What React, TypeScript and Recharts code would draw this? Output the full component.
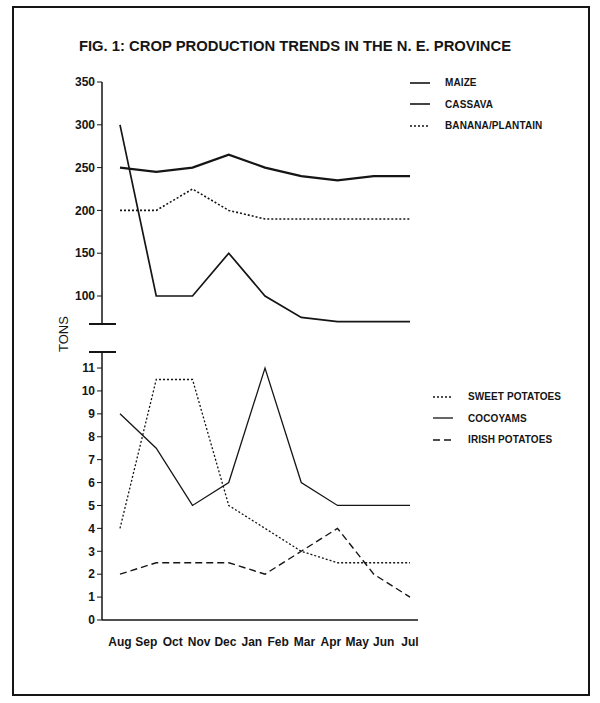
import React from 'react';
import { LineChart, Line, XAxis, YAxis, Legend } from 'recharts';

const MONTHS = ['Aug', 'Sep', 'Oct', 'Nov', 'Dec', 'Jan', 'Feb', 'Mar', 'Apr', 'May', 'Jun', 'Jul'];
const POINTS = [0, 1, 2, 3, 4, 5, 6, 7, 8];
const MAIZE = [250, 245, 250, 265, 250, 240, 235, 240, 240];
const CASSAVA = [300, 100, 100, 150, 100, 75, 70, 70, 70];
const BANANA = [200, 200, 225, 200, 190, 190, 190, 190, 190];
const SWEET = [4, 10.5, 10.5, 5, 4, 3, 2.5, 2.5, 2.5];
const COCOYAMS = [9, 7.5, 5, 6, 11, 6, 5, 5, 5];
const IRISH = [2, 2.5, 2.5, 2.5, 2, 3, 4, 2, 1];
const TOP_TICKS = [100, 150, 200, 250, 300, 350];
const BOTTOM_TICKS = [0, 1, 2, 3, 4, 5, 6, 7, 8, 9, 10, 11];
const TOP_NAMES = ['MAIZE', 'CASSAVA', 'BANANA/PLANTAIN'];
const BOTTOM_NAMES = ['SWEET POTATOES', 'COCOYAMS', 'IRISH POTATOES'];

const topData = POINTS.map((p, i) => ({ p, maize: MAIZE[i], cassava: CASSAVA[i], banana: BANANA[i] }));
const bottomData = POINTS.map((p, i) => ({ p, sweet: SWEET[i], cocoyams: COCOYAMS[i], irish: IRISH[i] }));
const monthTicks = MONTHS.map((_, i) => (i * (POINTS.length - 1)) / (MONTHS.length - 1));

const INK = '#151515';
const FONT = '"Liberation Sans", Arial, Helvetica, sans-serif';

const yTickStyle = { fontSize: 12, fontWeight: 700, fill: INK, fontFamily: FONT };
const xTickStyle = { fontSize: 12, fontWeight: 700, fill: INK, fontFamily: FONT };

const makeLegend = (order: string[], gap: number) => (props: any) => {
  const payload = [...(props.payload || [])].sort(
    (a: any, b: any) => order.indexOf(a.value) - order.indexOf(b.value)
  );
  return (
    <div style={{ fontFamily: FONT }}>
      {payload.map((entry: any, idx: number) => {
        const dash = entry.payload?.strokeDasharray;
        const sw = entry.payload?.strokeWidth || 1.5;
        return (
          <div key={idx} style={{ display: 'flex', alignItems: 'center', height: 21.5 }}>
            <svg width={20} height={8}>
              <line x1={0} y1={4} x2={20} y2={4} stroke={INK} strokeWidth={Math.min(sw, 1.6)} strokeDasharray={dash} />
            </svg>
            <span style={{ marginLeft: gap, fontSize: 10, fontWeight: 700, color: INK, letterSpacing: 0.1, whiteSpace: 'nowrap' }}>
              {entry.value}
            </span>
          </div>
        );
      })}
    </div>
  );
};

export default function App() {
  return (
    <div style={{ position: 'absolute', left: 0, top: 0, width: 600, height: 703, background: '#fff', fontFamily: FONT }}>
      <div style={{ position: 'absolute', left: 12, top: 6, width: 578, height: 690, border: `2px solid ${INK}`, boxSizing: 'border-box' }} />
      <div style={{ position: 'absolute', left: 0, width: 590, top: 38, textAlign: 'center', fontSize: 14.8, fontWeight: 700, color: INK, whiteSpace: 'nowrap' }}>
        FIG. 1: CROP PRODUCTION TRENDS IN THE N. E. PROVINCE
      </div>
      <div style={{ position: 'absolute', left: 64 - 30, top: 334 - 8, width: 60, height: 16, lineHeight: '16px', textAlign: 'center', transform: 'rotate(-90deg)', fontSize: 13, color: INK }}>
        TONS
      </div>

      <div style={{ position: 'absolute', left: 0, top: 0 }}>
        <LineChart width={600} height={330} data={topData} margin={{ top: 82, right: 182, bottom: 6, left: 0 }}>
          <XAxis dataKey="p" type="number" domain={[0, 8]} hide padding={{ left: 18, right: 8 }} />
          <YAxis
            type="number"
            domain={[67.3, 350]}
            ticks={TOP_TICKS}
            allowDataOverflow
            width={102}
            tick={yTickStyle}
            tickSize={5}
            tickMargin={2}
            axisLine={{ stroke: INK, strokeWidth: 1.5 }}
            tickLine={{ stroke: INK, strokeWidth: 1 }}
          />
          <Legend
            verticalAlign="middle"
            align="center"
            layout="vertical"
            content={makeLegend(TOP_NAMES, 15)}
            wrapperStyle={{ position: 'absolute', left: 410, top: 72, width: 180, height: 70 }}
          />
          <Line name="MAIZE" dataKey="maize" type="linear" stroke={INK} strokeWidth={2.2} dot={false} isAnimationActive={false} />
          <Line name="CASSAVA" dataKey="cassava" type="linear" stroke={INK} strokeWidth={1.7} dot={false} isAnimationActive={false} />
          <Line name="BANANA/PLANTAIN" dataKey="banana" type="linear" stroke={INK} strokeWidth={1.6} strokeDasharray="2 2" dot={false} isAnimationActive={false} />
        </LineChart>
      </div>

      <div style={{ position: 'absolute', left: 0, top: 330 }}>
        <LineChart width={600} height={373} data={bottomData} margin={{ top: 22, right: 182, bottom: 43, left: 0 }}>
          <XAxis
            dataKey="p"
            type="number"
            domain={[0, 8]}
            padding={{ left: 18, right: 8 }}
            ticks={monthTicks}
            interval={0}
            tickFormatter={(_v: number, i: number) => MONTHS[i]}
            tick={xTickStyle}
            tickLine={false}
            tickMargin={11}
            axisLine={{ stroke: INK, strokeWidth: 1.5 }}
            height={40}
          />
          <YAxis
            type="number"
            domain={[0, 11.7]}
            ticks={BOTTOM_TICKS}
            allowDataOverflow
            width={102}
            tick={yTickStyle}
            tickSize={5}
            tickMargin={2}
            axisLine={{ stroke: INK, strokeWidth: 1.5 }}
            tickLine={{ stroke: INK, strokeWidth: 1 }}
          />
          <Legend
            verticalAlign="middle"
            align="center"
            layout="vertical"
            content={makeLegend(BOTTOM_NAMES, 15)}
            wrapperStyle={{ position: 'absolute', left: 433, top: 56, width: 160, height: 70 }}
          />
          <Line name="SWEET POTATOES" dataKey="sweet" type="linear" stroke={INK} strokeWidth={1.3} strokeDasharray="2 2" dot={false} isAnimationActive={false} />
          <Line name="COCOYAMS" dataKey="cocoyams" type="linear" stroke={INK} strokeWidth={1.3} dot={false} isAnimationActive={false} />
          <Line name="IRISH POTATOES" dataKey="irish" type="linear" stroke={INK} strokeWidth={1.4} strokeDasharray="7 4" dot={false} isAnimationActive={false} />
        </LineChart>
      </div>

      <div style={{ position: 'absolute', left: 89, top: 323, width: 27, height: 2, background: INK }} />
      <div style={{ position: 'absolute', left: 89, top: 351, width: 27, height: 2, background: INK }} />
    </div>
  );
}
